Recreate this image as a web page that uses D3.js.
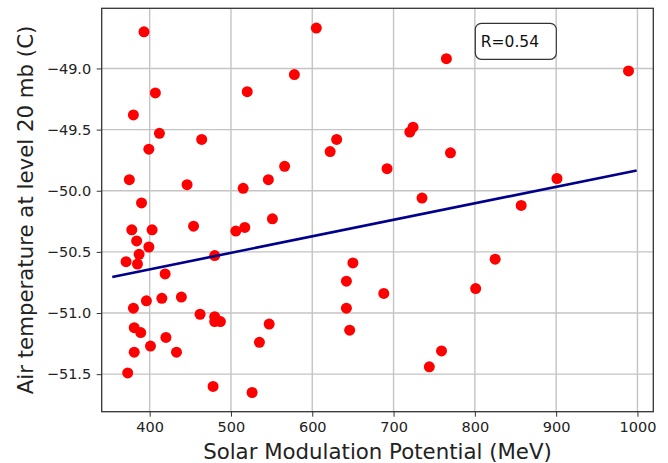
<!DOCTYPE html>
<html>
<head>
<meta charset="utf-8">
<script src="https://cdn.jsdelivr.net/npm/d3@7"></script>
<style>
  body { margin: 0; background: #fff; }
  svg text { font-family: "DejaVu Sans", sans-serif; }
  .grid line { stroke: #c4c4c4; stroke-width: 1.4px; }
  .axis path, .axis line { stroke: #333; }
  .axis text { fill: #222; font-size: 14.5px; }
</style>
</head>
<body>
<svg id="chart" width="668" height="463"></svg>
<script>
// solar modulation potential (MeV) and air temperature at 20 mb (C)
var solarMod = [393, 407, 380, 412, 399, 464, 520, 375, 446, 515, 546, 566, 390,
  605, 765, 578, 724, 720, 630, 622, 770, 692, 735, 989, 901, 857, 825, 801,
  378, 403, 454, 506, 517, 551, 384, 399, 387, 371, 385, 480, 419,
  380, 396, 415, 439, 462, 480, 480, 487, 381, 389, 420, 401, 433, 381, 535, 547,
  373, 478, 526, 650, 642, 688, 642, 646, 759, 744];
var airTemp = [-48.70, -49.20, -49.38, -49.53, -49.66, -49.58, -49.19, -49.91, -49.95, -49.98, -49.91, -49.80, -50.10,
  -48.67, -48.92, -49.05, -49.48, -49.52, -49.58, -49.68, -49.69, -49.82, -50.06, -49.02, -49.90, -50.12, -50.56, -50.80,
  -50.32, -50.32, -50.29, -50.33, -50.30, -50.23, -50.41, -50.46, -50.52, -50.58, -50.60, -50.53, -50.68,
  -50.96, -50.90, -50.88, -50.87, -51.01, -51.03, -51.07, -51.07, -51.12, -51.16, -51.20, -51.27, -51.32, -51.32, -51.24, -51.09,
  -51.49, -51.60, -51.65, -50.59, -50.74, -50.84, -50.96, -51.14, -51.31, -51.44];

// linear fit endpoints
var fitX = [354, 999];
var fitY = [-50.705, -49.834];

var xTicks = [400, 500, 600, 700, 800, 900, 1000];
var yTicks = [-49.0, -49.5, -50.0, -50.5, -51.0, -51.5];
var rLabel = "R=0.54";

var svg = d3.select("#chart");
var margin = {left: 101.7, top: 8.3, right: 14.7, bottom: 51.3};
var width = +svg.attr("width") - margin.left - margin.right,
    height = +svg.attr("height") - margin.top - margin.bottom;

var x = d3.scaleLinear().domain([341, 1019.5]).range([0, width]);
var y = d3.scaleLinear().domain([-51.807, -48.508]).range([height, 0]);

var g = svg.append("g").attr("transform", "translate(" + margin.left + "," + margin.top + ")");

// grid
g.append("g").attr("class", "grid")
  .selectAll("line.vx").data(xTicks).enter().append("line")
    .attr("x1", function(d) { return x(d); }).attr("x2", function(d) { return x(d); })
    .attr("y1", 0).attr("y2", height);
g.append("g").attr("class", "grid")
  .selectAll("line.hy").data(yTicks).enter().append("line")
    .attr("y1", function(d) { return y(d); }).attr("y2", function(d) { return y(d); })
    .attr("x1", 0).attr("x2", width);

// points
g.append("g").selectAll("circle")
  .data(solarMod.map(function(d, i) { return [d, airTemp[i]]; }))
  .enter().append("circle")
    .attr("cx", function(d) { return x(d[0]); })
    .attr("cy", function(d) { return y(d[1]); })
    .attr("r", 5.5)
    .attr("fill", "#ff0000");

// fit line
var line = d3.line().x(function(d) { return x(d[0]); }).y(function(d) { return y(d[1]); });
g.append("path")
  .datum(fitX.map(function(d, i) { return [d, fitY[i]]; }))
  .attr("d", line)
  .attr("fill", "none")
  .attr("stroke", "#00008b")
  .attr("stroke-width", 2.6);

// axes
var xAxis = g.append("g").attr("class", "axis")
  .attr("transform", "translate(0," + height + ")")
  .call(d3.axisBottom(x).tickValues(xTicks).tickFormat(d3.format("d")).tickSize(5).tickPadding(5).tickSizeOuter(0));
var yAxis = g.append("g").attr("class", "axis")
  .call(d3.axisLeft(y).tickValues(yTicks).tickFormat(d3.format(".1f")).tickSize(5).tickPadding(5.5).tickSizeOuter(0));
xAxis.select(".domain").remove();
yAxis.select(".domain").remove();

// frame
g.append("rect")
  .attr("width", width).attr("height", height)
  .attr("fill", "none").attr("stroke", "#333").attr("stroke-width", 1.3);

// R box
var box = g.append("g").attr("transform", "translate(" + (x(1019.5) - 178) + ",15)");
box.append("rect")
  .attr("width", 81).attr("height", 36).attr("rx", 6)
  .attr("fill", "#fff").attr("stroke", "#333").attr("stroke-width", 1.2);
box.append("text").attr("x", 5.5).attr("y", 23.5)
  .attr("font-size", "15.5px").attr("fill", "#111").text(rLabel);

// labels
svg.append("text")
  .attr("x", margin.left + width / 2).attr("y", 458.5)
  .attr("text-anchor", "middle").attr("font-size", "21.3px").attr("fill", "#222")
  .text("Solar Modulation Potential (MeV)");
svg.append("text")
  .attr("transform", "translate(33," + (margin.top + height / 2) + ") rotate(-90)")
  .attr("text-anchor", "middle").attr("font-size", "21.3px").attr("fill", "#222")
  .text("Air temperature at level 20 mb (C)");
</script>
</body>
</html>
